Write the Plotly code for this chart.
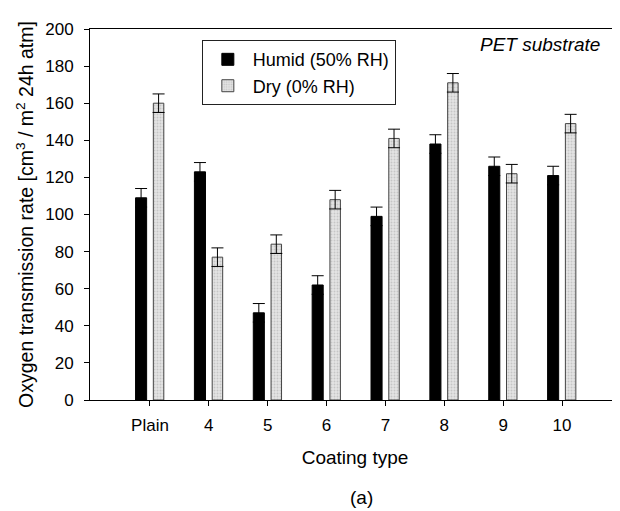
import plotly.graph_objects as go

categories = ["Plain", "4", "5", "6", "7", "8", "9", "10"]
humid = [109, 123, 47, 62, 99, 138, 126, 121]
humid_err = [5, 5, 5, 5, 5, 5, 5, 5]
dry = [160, 77, 84, 108, 141, 171, 122, 149]
dry_err = [5, 5, 5, 5, 5, 5, 5, 5]
yticks = [0, 20, 40, 60, 80, 100, 120, 140, 160, 180, 200]

xs = list(range(len(categories)))
font = "Liberation Sans, Arial, sans-serif"

fig = go.Figure()
fig.add_trace(go.Bar(
    x=xs, y=humid, name="Humid (50% RH)", offset=-0.245, width=0.188,
    marker=dict(color="black", line=dict(color="black", width=1)),
    error_y=dict(type="data", array=humid_err, color="black", thickness=1, width=6),
))
fig.add_trace(go.Bar(
    x=xs, y=dry, name="Dry (0% RH)", offset=0.057, width=0.178,
    marker=dict(color="#dedede", line=dict(color="#444444", width=1),
                pattern=dict(shape=".", size=3, solidity=0.35,
                             fgcolor="#a8a8a8", bgcolor="#e4e4e4")),
    error_y=dict(type="data", array=dry_err, color="black", thickness=1, width=6),
))

fig.update_layout(
    width=612, height=503,
    margin=dict(l=82, r=0, t=21, b=111),
    paper_bgcolor="white", plot_bgcolor="white",
    font=dict(family=font, size=17, color="black"),
    showlegend=True,
    legend=dict(x=0.211, y=0.97, xanchor="left", yanchor="top",
                bordercolor="#222222", borderwidth=1, bgcolor="white",
                font=dict(size=18, family=font), tracegroupgap=0,
                itemwidth=40),
    xaxis=dict(
        range=[-1.019, 7.985], tickmode="array", tickvals=xs, ticktext=categories,
        ticks="outside", ticklen=5, tickcolor="black", showgrid=False, zeroline=False,
        showline=True, linecolor="black", mirror=True, linewidth=1,
        ticklabelstandoff=5,
        title=dict(text="Coating type", font=dict(size=19), standoff=16),
        tickfont=dict(size=17),
    ),
    yaxis=dict(
        range=[0, 200], tickmode="array", tickvals=yticks,
        ticks="outside", ticklen=5, tickcolor="black", showgrid=False, zeroline=False,
        showline=True, linecolor="black", mirror=False, linewidth=1,
        ticklabelstandoff=7,
        title=dict(text="Oxygen transmission rate [cm<sup>3</sup> / m<sup>2</sup> 24h atm]",
                   font=dict(size=19.5), standoff=6),
        tickfont=dict(size=17),
    ),
    annotations=[
        dict(text="<i>PET substrate</i>", xref="paper", yref="paper", x=0.966, y=0.957,
             xanchor="right", yanchor="middle", showarrow=False, font=dict(size=19)),
        dict(text="(a)", xref="paper", yref="paper", x=0.513, y=-0.264,
             xanchor="center", yanchor="middle", showarrow=False, font=dict(size=19)),
    ],
)

fig.write_html("out.html")
